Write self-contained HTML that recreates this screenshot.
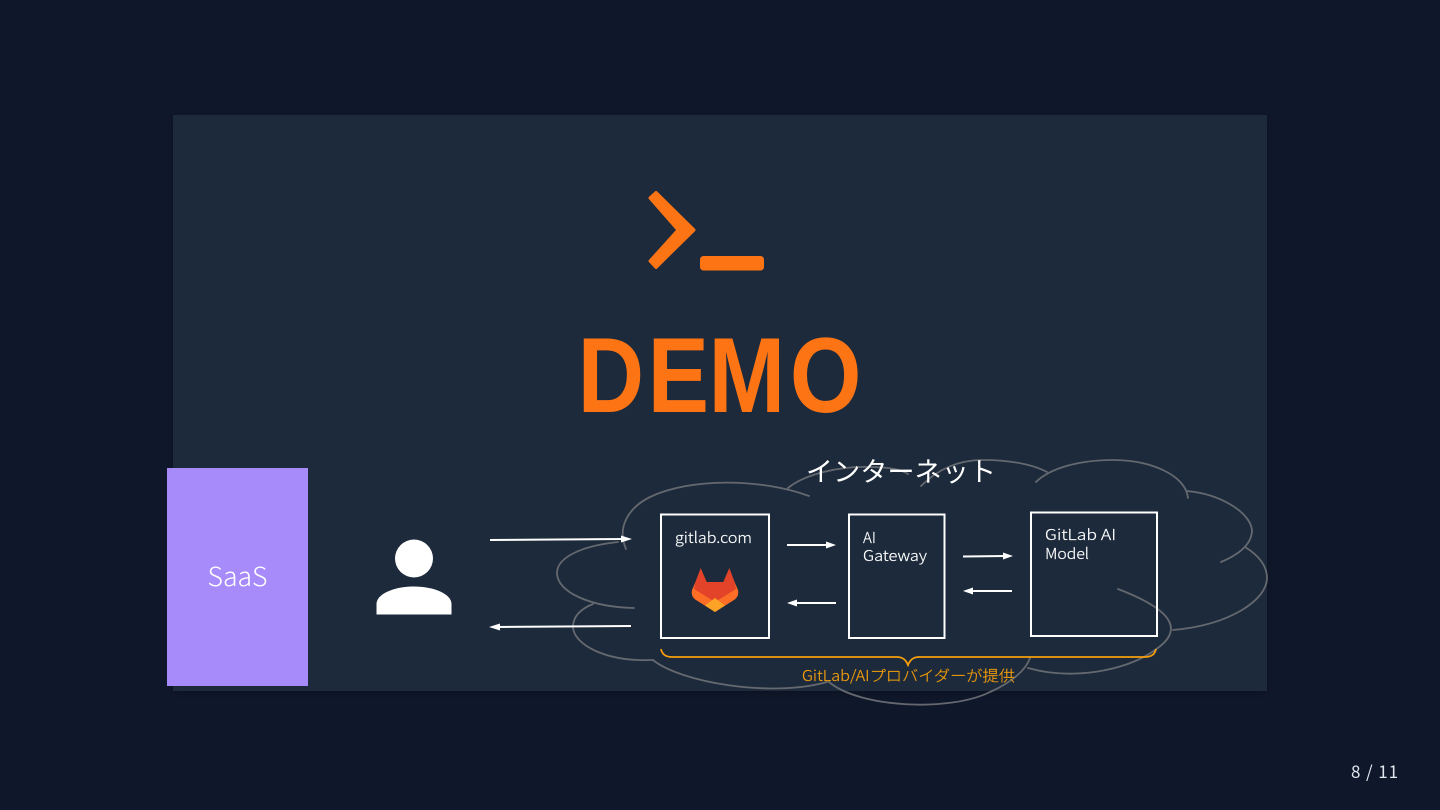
<!DOCTYPE html>
<html lang="ja"><head><meta charset="utf-8"><title>DEMO</title>
<style>
html,body{margin:0;padding:0;background:#0f172a;width:1440px;height:810px;overflow:hidden}
svg{display:block}
text{font-family:"Noto Sans CJK JP","Liberation Sans",sans-serif;font-weight:300;fill:#fff}
.t{stroke:#fff;stroke-width:.2}
</style></head><body>
<svg width="1440" height="810" viewBox="0 0 1440 810" xmlns="http://www.w3.org/2000/svg">
<defs>
<filter id="s" x="-5%" y="-5%" width="110%" height="110%"><feDropShadow dx="0" dy="2" stdDeviation="4" flood-color="#000" flood-opacity=".25"/></filter>
</defs>
<rect width="1440" height="810" fill="#0f172a"/>
<rect x="173" y="115" width="1094" height="576" fill="#1f293a" filter="url(#s)"/>

<polygon points="650,198 656,192.500 694,230 656,267.500 650,261 678,230" fill="#fd7415" stroke="#fd7415" stroke-width="3" stroke-linejoin="round"/>
<rect x="700" y="256" width="64" height="14.500" rx="3.500" fill="#fd7415"/>
<g transform="scale(.86 1)">
<text x="671.600 753 823.900 918.500" y="412" font-size="107" style="font-family:'Liberation Sans',sans-serif;font-weight:700;fill:#fd7415">DEMO</text>
</g>

<rect x="167" y="468" width="141" height="218" fill="#a78bfa"/>
<text x="237.500" y="586" font-size="26" text-anchor="middle" textLength="60" lengthAdjust="spacingAndGlyphs">SaaS</text>

<circle cx="414" cy="558.500" r="19" fill="#fff"/>
<path d="M376.500 614.500V604C376.500 594 394 586.500 414 586.500S451.500 594 451.500 604V614.500Z" fill="#fff"/>

<g fill="none" stroke="#65696f" stroke-width="1.800" stroke-linecap="round">
<path d="M809 496C760 478 690 478 650 497C630 507 616 526 626 549"/>
<path d="M618 542C580 546 557 558 557 573C557 592 590 607 634 608"/>
<path d="M593 604C578 610 573 618 573 627C574 645 606 662 653 660"/>
<path d="M653 660C680 682 770 698 827 682"/>
<path d="M829 682C860 708 950 712 990 692C1012 682 1026 670 1030 658"/>
<path d="M1028 668C1070 680 1125 672 1155 650C1182 632 1178 612 1118 589"/>
<path d="M1173 630C1230 625 1267 600 1267 578C1267 565 1258 555 1245 547"/>
<path d="M1221 562C1240 554 1252 544 1252 530C1250 512 1220 494 1187 491"/>
<path d="M1188 498C1186 475 1150 460 1113 460C1080 460 1050 468 1036 482"/>
<path d="M1047 472C1030 463 1005 460 983 460C955 460 935 472 921 486"/>
<path d="M788 488C805 474 840 466 870 467C885 467 900 469 908 474"/>
</g>

<g fill="none" stroke="#fff" stroke-width="2">
<rect x="661" y="514.500" width="108" height="123.500"/>
<rect x="849" y="514.500" width="95.500" height="123.500"/>
<rect x="1031" y="512.500" width="126" height="123.500"/>
</g>

<g stroke="#fff" stroke-width="2" fill="#fff">
<line x1="490" y1="540" x2="624" y2="539"/><polygon points="632,539 621,535.500 621,542.500" stroke="none"/>
<line x1="631" y1="626" x2="496" y2="627"/><polygon points="489,627 500,623.500 500,630.500" stroke="none"/>
<line x1="787" y1="545" x2="830" y2="545"/><polygon points="836,545 826,541.500 826,548.500" stroke="none"/>
<line x1="836" y1="603" x2="793" y2="603"/><polygon points="787,603 797,599.500 797,606.500" stroke="none"/>
<line x1="963" y1="556.500" x2="1006" y2="556"/><polygon points="1013,556 1003,552.500 1003,559.500" stroke="none"/>
<line x1="1012" y1="591" x2="969" y2="591"/><polygon points="963,591 973,587.500 973,594.500" stroke="none"/>
</g>

<text class="t" x="675" y="543" font-size="15" textLength="77" lengthAdjust="spacingAndGlyphs">gitlab.com</text>
<text class="t" x="863" y="543" font-size="15">AI</text>
<text class="t" x="863" y="561" font-size="15" textLength="64" lengthAdjust="spacingAndGlyphs">Gateway</text>
<text class="t" x="1045" y="540" font-size="15" textLength="71" lengthAdjust="spacingAndGlyphs">GitLab AI</text>
<text class="t" x="1045" y="559" font-size="15" textLength="44" lengthAdjust="spacingAndGlyphs">Model</text>

<path d="M695 583L692 590C691 595 693 598 696 600L715 612L734 600C737 598 739 595 738 590L735 583L715 600Z" fill="#fc6d26"/>
<polygon points="700.700,568 706.700,582 723.300,582 729.300,568 735,583 736,589 715,602 694,589 695,583" fill="#e24329"/>
<polygon points="705,605.500 715,598 725,605.500 715,612" fill="#fca326"/>

<text x="806" y="481.500" font-size="27" textLength="190" style="font-weight:400">インターネット</text>

<path d="M661 649C662 654 665 657 672 657H897C903 657 906 660 908 665C910 660 913 657 919 657H1145C1152 657 1155 654 1156 649" fill="none" stroke="#f59e0b" stroke-width="1.800"/>
<text x="802" y="681" font-size="15" textLength="213" lengthAdjust="spacingAndGlyphs" style="fill:#f59e0b;stroke:#f59e0b;stroke-width:.2">GitLab/AIプロバイダーが提供</text>

<text x="1351" y="778" font-size="17" textLength="47" style="fill:#e2e8f0;font-weight:400">8 / 11</text>
</svg>
</body></html>
